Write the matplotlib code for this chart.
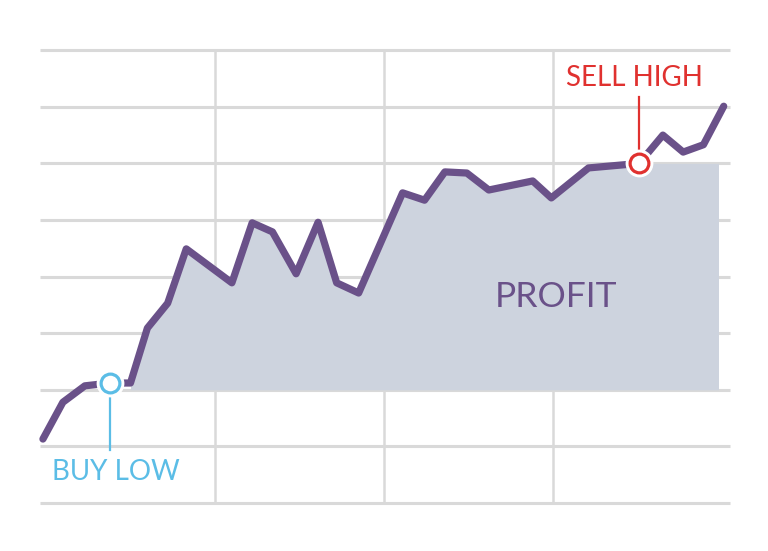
import matplotlib.pyplot as plt
import numpy as np
from matplotlib.patches import Rectangle

# price path (x = time, y = price)
days = [-0.18, 1.0, 2.3, 3.8, 5.0, 6.0, 7.2, 8.3, 11.0, 12.2, 13.4, 14.8, 16.1, 17.2,
        18.5, 21.1, 22.4, 23.6, 24.9, 26.2, 28.8, 29.9, 32.1, 35.1, 36.5, 37.7, 38.9, 40.1]
price = [1.13, 1.78, 2.07, 2.12, 2.12, 3.09, 3.53, 4.49, 3.89, 4.95, 4.79, 4.05, 4.96, 3.89,
         3.71, 5.48, 5.35, 5.85, 5.83, 5.53, 5.69, 5.39, 5.92, 6.0, 6.50, 6.20, 6.33, 7.01]

buy_day, buy_price = 3.8, 2.12
sell_day, sell_price = 35.1, 6.0
profit_base = 2.0
profit_end = 39.76

purple = '#6a5189'
blue = '#5bbde6'
red = '#e0312f'
grid = '#d9d9d9'
fill = '#cdd3de'

plt.rcParams['font.family'] = ['Lato', 'DejaVu Sans']

fig = plt.figure(figsize=(7.68, 5.51), dpi=100)
ax = fig.add_axes([0, 0, 1, 1])
ax.set_xlim(-2.72, 42.72)
ax.set_ylim(-0.848, 8.887)
ax.axis('off')

# grid
for yy in range(0, 9):
    ax.plot([-0.36, 40.47], [yy, yy], color=grid, lw=2.2, zorder=1, solid_capstyle='butt')
for xx in [10, 20, 30]:
    ax.plot([xx, xx], [0, 8], color=grid, lw=1.8, zorder=1)

# profit area
x = np.array(days)
y = np.array(price)
m = x >= 5.0
poly = ax.fill_between(x[m], profit_base, np.minimum(y[m], sell_price), color=fill, lw=0, zorder=2)
poly.set_clip_path(Rectangle((5.0, profit_base), profit_end - 5.0, sell_price - profit_base + 0.01,
                             transform=ax.transData))

# price line
ax.plot(days, price, color=purple, lw=5.2, solid_joinstyle='round', solid_capstyle='round', zorder=3)

# buy / sell markers
ax.plot([buy_day, buy_day], [0.94, buy_price], color=blue, lw=1.6, zorder=4)
ax.plot([sell_day, sell_day], [sell_price, 7.17], color=red, lw=1.6, zorder=4)
for dx, py, c in [(buy_day, buy_price, blue), (sell_day, sell_price, red)]:
    ax.plot(dx, py, 'o', ms=19, mfc='white', mec='white', zorder=5)
    ax.plot(dx, py, 'o', ms=13.5, mfc='white', mec=c, mew=2.3, zorder=6)

ax.text(4.15, 0.55, 'BUY LOW', color=blue, fontsize=20, ha='center', va='center')
ax.text(34.8, 7.51, 'SELL HIGH', color=red, fontsize=20, ha='center', va='center')
ax.text(30.18, 3.64, 'PROFIT', color=purple, fontsize=25.5, ha='center', va='center')

fig.savefig('out.png', dpi=100)
